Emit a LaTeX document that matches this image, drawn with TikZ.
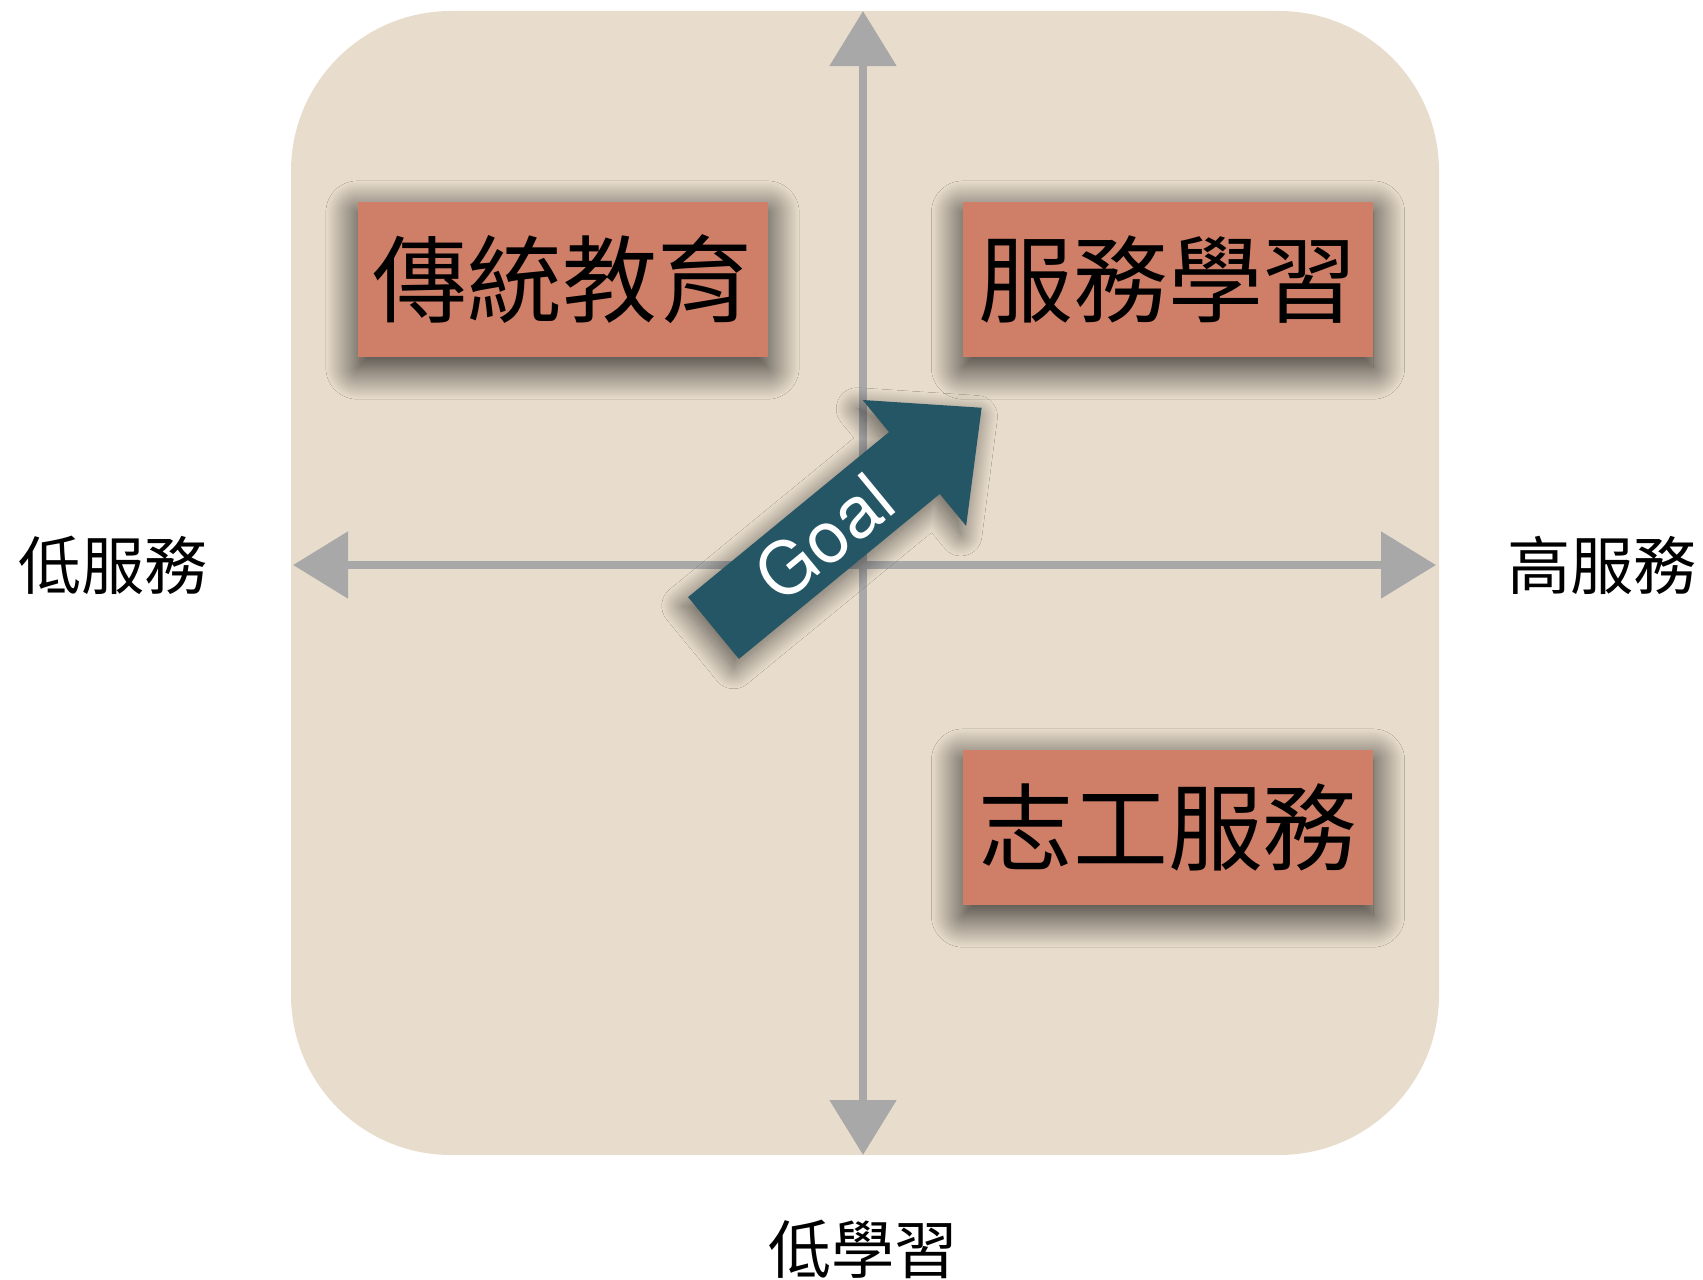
\documentclass[tikz,border=0pt]{standalone}
\usepackage{fontspec}
\setmainfont{TeX Gyre Heros}
\newfontfamily\cjk{Noto Sans CJK TC}
\usepackage{tikz}
\usetikzlibrary{arrows.meta, positioning, shadows.blur}
\definecolor{panelcolor}{RGB}{232,221,204}
\definecolor{quadcolor}{RGB}{207,127,103}
\definecolor{goalcolor}{RGB}{37,86,102}
\definecolor{axiscolor}{RGB}{168,168,168}

\begin{document}
\begin{tikzpicture}[
    x=0.2mm, y=0.2mm,
    panel/.style={fill=panelcolor, rounded corners=32mm},
    quadrant/.style={fill=quadcolor, minimum width=82mm, minimum height=31mm, inner sep=0pt, font=\cjk\fontsize{54}{54}\selectfont, blur shadow={shadow xshift=0pt, shadow yshift=-6pt, shadow blur radius=18pt, shadow blur steps=40, shadow opacity=85}},
    axis/.style={draw=axiscolor, line width=5pt, {Triangle[length=11mm, width=13mm]}-{Triangle[length=11mm, width=13mm]}},
    sidelabel/.style={font=\cjk\fontsize{36}{36}\selectfont},
    goalarrow/.style={fill=goalcolor, blur shadow={shadow xshift=-3pt, shadow yshift=-5pt, shadow blur radius=12pt, shadow blur steps=40, shadow opacity=60}},
    goaltext/.style={text=white, font=\fontsize{41}{41}\selectfont, transform shape}
]
    \useasboundingbox (0,0) rectangle (1703,-1279);

    % Background
    \fill[panel] (291,-11) rectangle (1439,-1155);

    % Quadrants
    \node[quadrant] (traditional) at (562.5,-279.5) {傳統教育};
    \node[quadrant] (servicelearning) at (1168,-279.5) {服務學習};
    \node[quadrant] (volunteer) at (1168,-827.5) {志工服務};

    % Axes
    \coordinate (top) at (863,-11);
    \coordinate (bottom) at (863,-1155);
    \coordinate (left) at (293,-565);
    \coordinate (right) at (1436,-565);
    \draw[axis] (bottom) -- (top);
    \draw[axis] (left) -- (right);

    % Axis labels
    \node[sidelabel] (lowservice) at (113,-565) {低服務};
    \node[sidelabel] (highservice) at (1602,-565) {高服務};
    \node[sidelabel] (lowlearning) at (863,-1249) {低學習};

    % Goal
    \begin{scope}[shift={(713.5,-628)}, rotate=39.4]
        \fill[goalarrow] (0,-40) -- (260,-40) -- (260,-81.5) -- (347,0) -- (260,81.5) -- (260,40) -- (0,40) -- cycle;
        \node[goaltext] (goal) at (143,0) {Goal};
    \end{scope}
\end{tikzpicture}
\end{document}
